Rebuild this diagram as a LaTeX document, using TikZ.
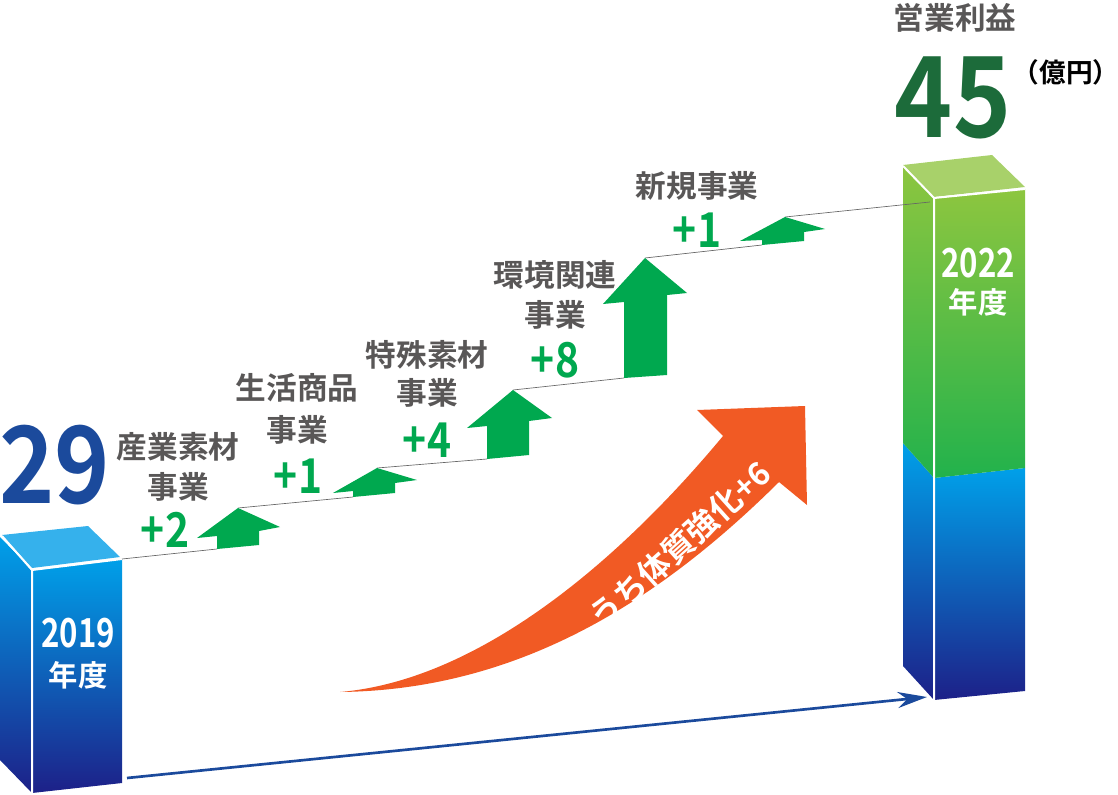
\documentclass[tikz,border=0pt]{standalone}
\usepackage{fontspec}
\usetikzlibrary{arrows.meta}
\setmainfont{Noto Sans CJK JP}[BoldFont={Noto Sans CJK JP Bold}]
\definecolor{gtxt}{HTML}{595757}
\definecolor{grn}{HTML}{00A84F}
\definecolor{blu}{HTML}{1B4A9C}
\definecolor{org}{HTML}{F15A24}
\definecolor{dk}{HTML}{1D2088}
\definecolor{cy}{HTML}{00A0E9}
\definecolor{gtop}{HTML}{8DC63F}
\definecolor{gbot}{HTML}{22B24C}
\definecolor{gface}{HTML}{A8D16A}
\definecolor{bface}{HTML}{35B1EC}
\definecolor{dgrn}{HTML}{1C6B3A}
\begin{document}
\begin{tikzpicture}[x=0.75pt,y=-0.75pt,
  lbl/.style={font=\bfseries\fontsize{23pt}{25pt}\selectfont,text=gtxt,inner sep=0},
  inc/.style={font=\bfseries\fontsize{36pt}{38pt}\selectfont,text=grn,inner sep=0,xscale=0.85},
  yr/.style={font=\bfseries\fontsize{30pt}{32pt}\selectfont,text=white,inner sep=0,xscale=0.78},
  nen/.style={font=\bfseries\fontsize{22pt}{24pt}\selectfont,text=white,inner sep=0},
  stair/.style={draw=gray!80!black,line width=0.5pt},
  garr/.style={fill=grn}]
\useasboundingbox (0,0) rectangle (1118,795);
% left bar
\shade[top color=cy,bottom color=dk] (0,537) -- (32,570) -- (32,793) -- (0,760) -- cycle;
\shade[top color=cy,bottom color=dk] (32,570) -- (122,559) -- (122,783) -- (32,793) -- cycle;
\fill[bface] (2,535) -- (88,526) -- (120,557) -- (32,568) -- cycle;
\draw[white,line width=1.5pt] (32,570) -- (122,559) (32,570) -- (32,795) (2,536) -- (32,570);
% right bar
\shade[top color=cy,bottom color=dk] (903,443) -- (934,478) -- (934,700) -- (903,666) -- cycle;
\shade[top color=cy,bottom color=dk] (934,478) -- (1025,468) -- (1025,691) -- (934,700) -- cycle;
\shade[top color=gtop,bottom color=gbot] (903,166) -- (934,198) -- (934,478) -- (903,443) -- cycle;
\shade[top color=gtop,bottom color=gbot] (934,198) -- (1025,189) -- (1025,468) -- (934,478) -- cycle;
\fill[gface] (903,165) -- (992,155) -- (1025,187) -- (934,197) -- cycle;
\draw[white,line width=1.5pt] (934,198) -- (1025,189) (934,198) -- (934,702) (903,166) -- (934,198);
% stairs
\coordinate (b0) at (122,559);
\draw[stair] (b0) -- (217,549);
\draw[stair] (238,508) -- (353,497);
\draw[stair] (377,468) -- (487,459);
\draw[stair] (513,390) -- (624,378);
\draw[stair] (645,258) -- (762,245);
\draw[stair] (785,217) -- (930,202);
% green arrows
\fill[garr] (217,549) -- (259,545) -- (259,531) -- (280,527) -- (238,508) -- (197,538) -- (217,536) -- cycle;
\fill[garr] (353,497) -- (395,493) -- (395,483) -- (417,480) -- (377,468) -- (333,493) -- (353,491) -- cycle;
\fill[garr] (487,459) -- (529,455) -- (529,421) -- (552,418) -- (513,390) -- (467,428) -- (487,426) -- cycle;
\fill[garr] (624,378) -- (667,375) -- (667,295) -- (687,293) -- (645,258) -- (603,304) -- (624,302) -- cycle;
\fill[garr] (762,245) -- (804,241) -- (804,232) -- (825,229) -- (785,217) -- (740,241) -- (762,240) -- cycle;
% labels
\node[lbl] (l1a) at (178,447) {産業素材};
\node[lbl] (l1b) at (178,487) {事業};
\node[inc] (i1) at (165,530) {+2};
\node[lbl] (l2a) at (297,388) {生活商品};
\node[lbl] (l2b) at (297,430) {事業};
\node[inc] (i2) at (298,476) {+1};
\node[lbl] (l3a) at (427,355) {特殊素材};
\node[lbl] (l3b) at (427,393) {事業};
\node[inc] (i3) at (427,440) {+4};
\node[lbl] (l4a) at (555,275) {環境関連};
\node[lbl] (l4b) at (555,315) {事業};
\node[inc] (i4) at (555,360) {+8};
\node[lbl] (l5a) at (697,186) {新規事業};
\node[inc] (i5) at (697,230) {+1};
\node[lbl] (ttl) at (955,18) {営業利益};
\node[font=\bfseries\fontsize{80pt}{82pt}\selectfont,text=blu,inner sep=0,xscale=0.88] (v29) at (55,465) {29};
\node[font=\bfseries\fontsize{84pt}{86pt}\selectfont,text=dgrn,inner sep=0,xscale=0.88] (v45) at (953,98) {45};
\node[font=\bfseries\fontsize{20pt}{22pt}\selectfont,inner sep=0] (unit) at (1066,72) {（億円）};
\node[yr] (y1) at (78,633) {2019};
\node[nen] (n1) at (78,675) {年度};
\node[yr] (y2) at (978,263) {2022};
\node[nen] (n2) at (978,302) {年度};
% orange arrow
\fill[org] (340,692) .. controls (480,680) and (620,560) .. (723,436) -- (697,410) -- (805,406) -- (807,505) -- (779,482) .. controls (660,600) and (520,690) .. (340,692) -- cycle;
\node[font=\bfseries\fontsize{24pt}{26pt}\selectfont,text=white,inner sep=0,rotate=42] (o) at (680,545) {うち体質強化+6};
% blue arrow
\coordinate (bs) at (127,778);
\coordinate (be) at (927,697);
\draw[blu,line width=2pt,-{Stealth[length=22pt,width=12pt]}] (bs) -- (be);
\end{tikzpicture}
\end{document}
